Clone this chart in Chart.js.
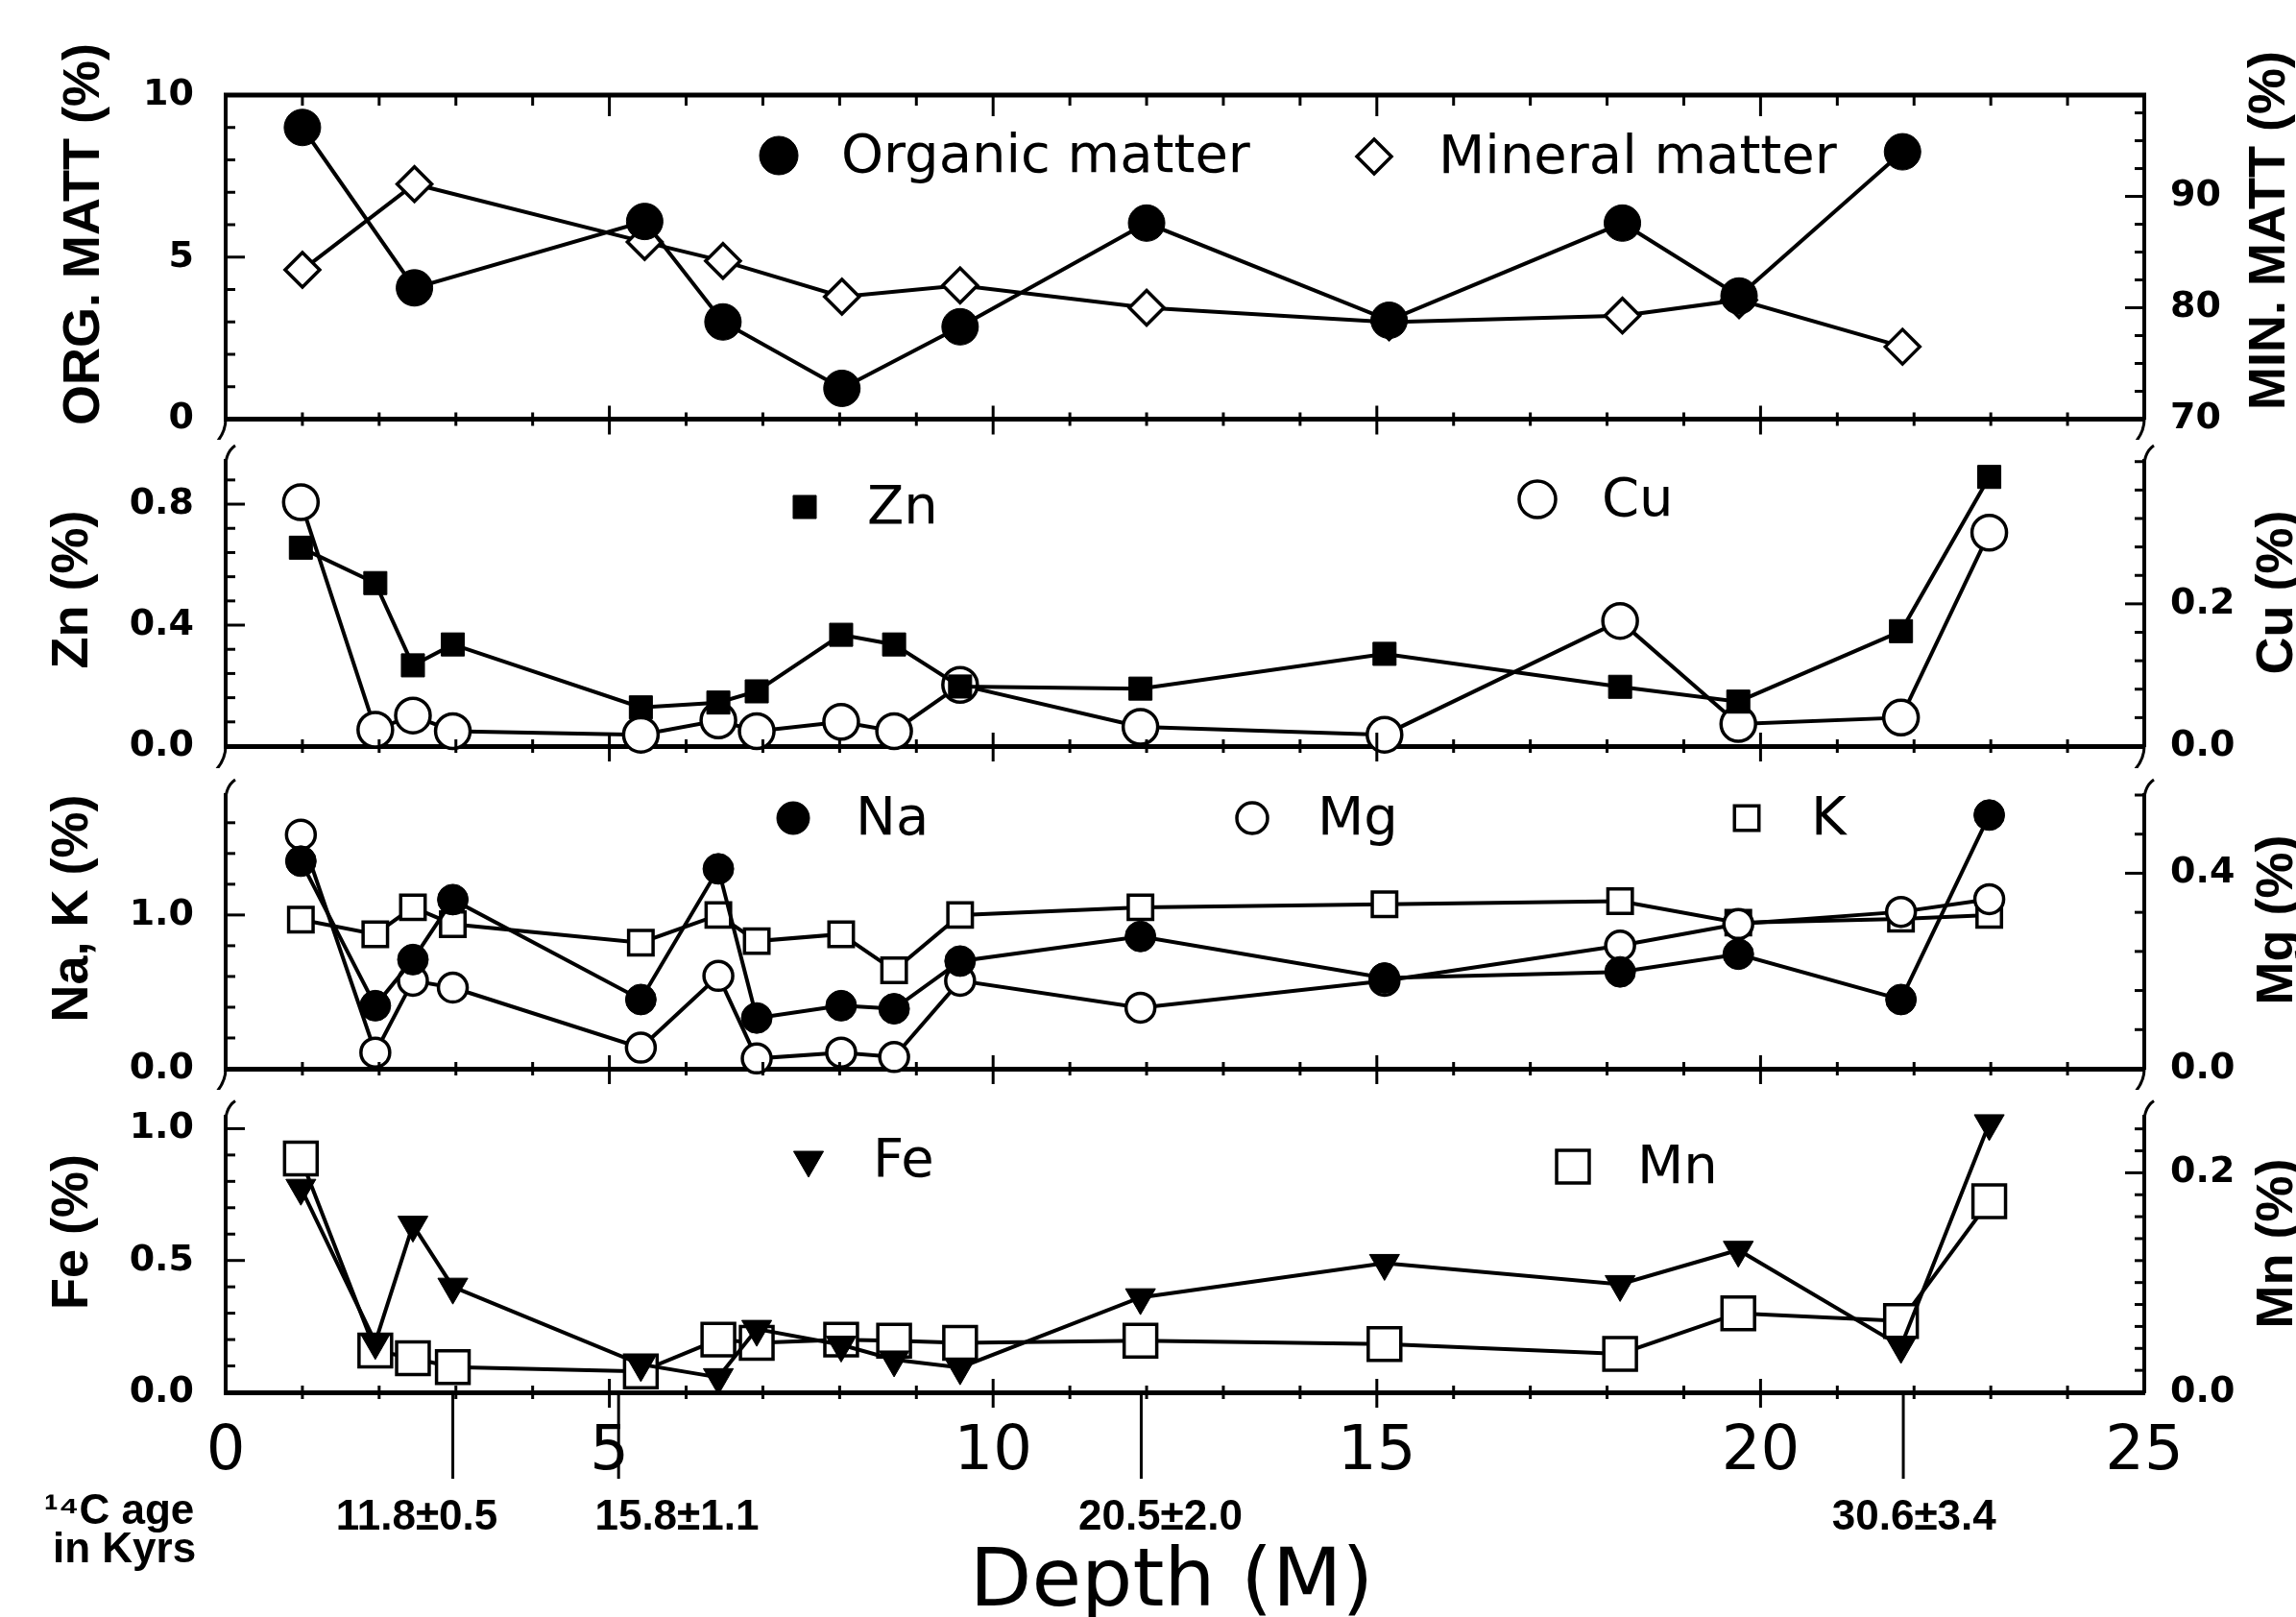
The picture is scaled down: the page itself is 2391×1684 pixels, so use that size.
<!DOCTYPE html>
<html>
<head>
<meta charset="utf-8">
<script src="https://cdn.jsdelivr.net/npm/chart.js@4.4.1/dist/chart.umd.min.js"></script>
<style>
  html, body { margin: 0; padding: 0; background: #fff; }
  #wrap { position: relative; width: 2391px; height: 1684px; background: #fff; overflow: hidden; }
  #wrap canvas { position: absolute; left: 0; }
</style>
</head>
<body>
<div id="wrap">
  <canvas id="p1"></canvas>
  <canvas id="p2"></canvas>
  <canvas id="p3"></canvas>
  <canvas id="p4"></canvas>
</div>
<script>
// depth of samples (m)
var depthMatter = [1.0, 2.46, 5.46, 6.48, 8.03, 9.57, 12.0, 15.16, 18.2, 19.72, 21.85];
var organicMatter = [9.0, 4.05, 6.1, 3.0, 0.95, 2.85, 6.05, 3.05, 6.05, 3.8, 8.25];
var mineralMatter = [83.4, 91.1, 85.9, 84.2, 81.0, 82.0, 80.0, 78.7, 79.3, 80.7, 76.5];

var depthElem = [0.98, 1.95, 2.44, 2.96, 5.41, 6.42, 6.92, 8.02, 8.71, 9.57, 11.92, 15.1, 18.17, 19.71, 21.83, 22.98];
var zn = [0.656, 0.539, 0.267, 0.336, 0.128, 0.144, 0.181, 0.368, 0.336, 0.197, 0.19, 0.305, 0.196, 0.147, 0.38, 0.89];
var cu = [0.343, 0.023, 0.043, 0.021, 0.016, 0.036, 0.021, 0.034, 0.021, 0.086, 0.027, 0.016, 0.176, 0.031, 0.04, 0.30];
var na = [1.35, 0.41, 0.71, 1.10, 0.45, 1.30, 0.33, 0.41, 0.39, 0.70, 0.86, 0.59, 0.63, 0.745, 0.45, 1.65];
var mg = [0.479, 0.033, 0.18, 0.166, 0.043, 0.19, 0.021, 0.033, 0.024, 0.18, 0.125, 0.18, 0.252, 0.296, 0.321, 0.347];
var kk = [0.97, 0.875, 1.05, 0.94, 0.82, 1.0, 0.83, 0.875, 0.64, 1.0, 1.05, 1.07, 1.09, 0.95, 0.975, 1.0];
var fe = [0.775, 0.19, 0.635, 0.40, 0.106, 0.057, 0.24, 0.18, 0.124, 0.094, 0.36, 0.49, 0.41, 0.54, 0.175, 1.02];
var mn = [0.213, 0.038, 0.031, 0.023, 0.019, 0.048, 0.045, 0.048, 0.047, 0.045, 0.047, 0.044, 0.035, 0.072, 0.065, 0.174];

var depthTicks = [0, 5, 10, 15, 20, 25];

// 14C ages
var ageDepths = [2.96, 5.12, 11.93, 21.86];
var ageLabels = ['11.8±0.5', '15.8±1.1', '20.5±2.0', '30.6±3.4'];
var ageLabelDepths = [2.49, 5.88, 12.18, 22.0];

var W = 2391, AXL = 235, AXR = 2233;

// marker styles
var solidDot = { pointStyle: 'circle', pointBackgroundColor: '#000', pointBorderWidth: 1 };
var openDot = { pointStyle: 'circle', pointBackgroundColor: '#fff', pointBorderWidth: 3.5 };
var openDiamond = { pointStyle: 'rectRot', pointBackgroundColor: '#fff', pointBorderWidth: 3.5 };
var solidSquare = { pointStyle: 'rect', pointBackgroundColor: '#000', pointBorderWidth: 1 };
var openSquare = { pointStyle: 'rect', pointBackgroundColor: '#fff', pointBorderWidth: 3.5 };
var solidTri = { pointStyle: 'triangle', pointRotation: 180, pointBackgroundColor: '#000', pointBorderWidth: 1 };

function series(label, xs, ys, axis, mark, r) {
  return Object.assign({
    label: label,
    data: xs.map(function (x, i) { return { x: x, y: ys[i] }; }),
    yAxisID: axis,
    borderColor: '#000',
    borderWidth: 4,
    pointBorderColor: '#000',
    pointRadius: r,
    showLine: true,
    tension: 0,
    clip: false
  }, mark);
}

function line(c, x1, y1, x2, y2) {
  c.beginPath(); c.moveTo(x1, y1); c.lineTo(x2, y2); c.stroke();
}

function yTicks(c, s, o, x, dir) {
  c.lineWidth = 3;
  for (var i = 0; ; i++) {
    var v = o.min + i * o.minor;
    if (v > o.max + 1e-9) break;
    var major = o.major.some(function (m) { return Math.abs(m - v) < 1e-6; });
    var y = s.getPixelForValue(v);
    line(c, x, y, x + dir * (major ? 20 : 10), y);
  }
}

function marker(c, ds, x, y, r) {
  c.save();
  c.fillStyle = ds.pointBackgroundColor;
  c.strokeStyle = '#000';
  c.lineWidth = ds.pointBorderWidth;
  Chart.helpers.drawPoint(c, {
    pointStyle: ds.pointStyle, rotation: ds.pointRotation || 0,
    radius: r, borderWidth: ds.pointBorderWidth
  }, x, y);
  c.restore();
}

function vtext(c, t, x, y) {
  c.save();
  c.translate(x, y);
  c.rotate(-Math.PI / 2);
  c.textAlign = 'center';
  c.textBaseline = 'middle';
  c.fillText(t, 0, 0);
  c.restore();
}

function decor(cfg) {
  return {
    id: 'decor_' + cfg.id,
    afterDraw: function (chart) {
      var c = chart.ctx, a = chart.chartArea, xs = chart.scales.x;
      var off = cfg.top;
      c.save();
      c.strokeStyle = '#000';
      c.fillStyle = '#000';
      c.lineWidth = 3;
      for (var d = 1; d < 25; d++) {
        var x = xs.getPixelForValue(d);
        var major = d % 5 === 0;
        line(c, x, a.bottom - (major ? 14 : 7), x, a.bottom + (major ? 16 : 7));
        if (cfg.topBorder) line(c, x, a.top, x, a.top + (major ? 22 : 11));
      }
      if (cfg.topBorder) { c.lineWidth = 5; line(c, a.left - 2, a.top, a.right + 2, a.top); }
      yTicks(c, chart.scales.yL, cfg.left, a.left, 1);
      yTicks(c, chart.scales.yR, cfg.right, a.right, -1);

      // axis breaks
      c.lineWidth = 3;
      [a.left, a.right].forEach(function (x) {
        if (cfg.breakTop) {
          c.beginPath(); c.moveTo(x, a.top + 14);
          c.quadraticCurveTo(x - 2, a.top - 8, x + 10, a.top - 16); c.stroke();
        }
        if (cfg.breakBottom) {
          c.beginPath(); c.moveTo(x, a.bottom);
          c.quadraticCurveTo(x, a.bottom + 14, x - 11, a.bottom + 26); c.stroke();
        }
      });

      // axis titles
      c.font = 'bold 54px "Liberation Sans", Arial, sans-serif';
      vtext(c, cfg.left.title, cfg.left.tx, cfg.left.ty - off);
      vtext(c, cfg.right.title, cfg.right.tx, cfg.right.ty - off);

      // in-plot legend
      c.font = '56px "DejaVu Sans", sans-serif';
      c.textAlign = 'left';
      c.textBaseline = 'middle';
      cfg.legend.forEach(function (L) {
        var ds = chart.data.datasets[L.ds];
        marker(c, ds, L.mx, L.my - off, L.r);
        c.fillStyle = '#000';
        c.fillText(ds.label, L.tx, L.my - off + 2);
      });

      if (cfg.ages) {
        c.lineWidth = 3;
        ageDepths.forEach(function (d) {
          var x = xs.getPixelForValue(d);
          line(c, x, a.bottom, x, a.bottom + 90);
        });
        c.font = 'bold 44px "Liberation Sans", Arial, sans-serif';
        c.textAlign = 'center';
        c.textBaseline = 'alphabetic';
        ageLabels.forEach(function (t, i) {
          c.fillText(t, xs.getPixelForValue(ageLabelDepths[i]), 1593 - off);
        });
        c.textAlign = 'left';
        c.fillText('\u00B9\u2074C age', 46, 1587 - off);
        c.fillText('in Kyrs', 55, 1627 - off);
        c.font = '84px "DejaVu Sans", sans-serif';
        c.textAlign = 'center';
        c.fillText('Depth (M)', 1220, 1672 - off);
      }
      c.restore();
    }
  };
}

function yScale(o, pos, pad) {
  return {
    type: 'linear',
    position: pos,
    min: o.min,
    max: o.max,
    grid: { display: false, drawTicks: false },
    border: { display: true, color: '#000', width: 4 },
    ticks: {
      color: '#000',
      padding: pad,
      font: { family: 'DejaVu Sans', size: 38, weight: 'bold' },
      callback: function (v) { return Number(v).toFixed(o.dec); }
    },
    afterBuildTicks: function (s) { s.ticks = o.major.map(function (v) { return { value: v }; }); },
    afterFit: function (s) {
      s.width = pos === 'left' ? AXL : W - AXR;
      s.paddingTop = 0; s.paddingBottom = 0;
    }
  };
}

function makePanel(cfg) {
  var cv = document.getElementById(cfg.id);
  cv.width = W;
  cv.height = cfg.h;
  cv.style.top = cfg.top + 'px';
  var xH = cfg.top + cfg.h - cfg.areaBottom;
  return new Chart(cv, {
    type: 'line',
    data: { datasets: cfg.datasets },
    options: {
      responsive: false,
      animation: false,
      devicePixelRatio: 1,
      layout: { padding: { top: cfg.areaTop - cfg.top, left: 0, right: 0, bottom: 0 } },
      plugins: { legend: { display: false }, tooltip: { enabled: false } },
      scales: {
        x: {
          type: 'linear', position: 'bottom', min: 0, max: 25,
          grid: { display: false, drawTicks: false },
          border: { display: true, color: '#000', width: 5 },
          ticks: {
            display: !!cfg.xLabels, color: '#000', padding: 25, maxRotation: 0, autoSkip: false,
            font: { family: 'DejaVu Sans', size: 64 }
          },
          afterBuildTicks: function (s) { s.ticks = depthTicks.map(function (v) { return { value: v }; }); },
          afterFit: function (s) { s.height = xH; s.paddingLeft = 0; s.paddingRight = 0; }
        },
        yL: yScale(cfg.left, 'left', 33),
        yR: yScale(cfg.right, 'right', 27)
      }
    },
    plugins: [decor(cfg)]
  });
}

makePanel({
  id: 'p1', top: 0, h: 458, areaTop: 99, areaBottom: 438,
  topBorder: true, breakTop: false, breakBottom: true,
  left: { min: 0, max: 10, major: [0, 5, 10], minor: 1, dec: 0, title: 'ORG. MATT (%)', tx: 88, ty: 244 },
  right: { min: 70, max: 99.1, major: [70, 80, 90], minor: 2.5, dec: 0, title: 'MIN. MATT (%)', tx: 2364, ty: 240 },
  datasets: [
    series('Organic matter', depthMatter, organicMatter, 'yL', solidDot, 19),
    series('Mineral matter', depthMatter, mineralMatter, 'yR', openDiamond, 18)
  ],
  legend: [
    { ds: 0, mx: 811, my: 162, tx: 876, r: 20 },
    { ds: 1, mx: 1431, my: 163, tx: 1498, r: 18 }
  ]
});

makePanel({
  id: 'p2', top: 458, h: 342, areaTop: 480, areaBottom: 777,
  breakTop: true, breakBottom: true,
  left: { min: 0, max: 0.943, major: [0, 0.4, 0.8], minor: 0.08, dec: 1, title: 'Zn (%)', tx: 76, ty: 614 },
  right: { min: 0, max: 0.401, major: [0, 0.2], minor: 0.04, dec: 1, title: 'Cu (%)', tx: 2372, ty: 617 },
  datasets: [
    series('Zn', depthElem, zn, 'yL', solidSquare, 17),
    series('Cu', depthElem, cu, 'yR', openDot, 18)
  ],
  legend: [
    { ds: 0, mx: 838, my: 528, tx: 903, r: 17 },
    { ds: 1, mx: 1601, my: 520, tx: 1668, r: 19 }
  ]
});

makePanel({
  id: 'p3', top: 800, h: 335, areaTop: 828, areaBottom: 1113,
  breakTop: true, breakBottom: true,
  left: { min: 0, max: 1.78, major: [0, 1.0], minor: 0.2, dec: 1, title: 'Na, K (%)', tx: 76, ty: 946 },
  right: { min: 0, max: 0.56, major: [0, 0.4], minor: 0.08, dec: 1, title: 'Mg (%)', tx: 2372, ty: 958 },
  datasets: [
    series('Na', depthElem, na, 'yL', solidDot, 16),
    series('Mg', depthElem, mg, 'yR', openDot, 15),
    series('K', depthElem, kk, 'yL', openSquare, 18)
  ],
  legend: [
    { ds: 0, mx: 826, my: 852, tx: 891, r: 17 },
    { ds: 1, mx: 1304, my: 852, tx: 1372, r: 16 },
    { ds: 2, mx: 1819, my: 852, tx: 1886, r: 18 }
  ]
});

makePanel({
  id: 'p4', top: 1135, h: 549, areaTop: 1162, areaBottom: 1450,
  breakTop: true, breakBottom: false, xLabels: true, ages: true,
  left: { min: 0, max: 1.047, major: [0, 0.5, 1.0], minor: 0.1, dec: 1, title: 'Fe (%)', tx: 76, ty: 1283 },
  right: { min: 0, max: 0.2515, major: [0, 0.2], minor: 0.02, dec: 1, title: 'Mn (%)', tx: 2372, ty: 1295 },
  datasets: [
    series('Fe', depthElem, fe, 'yL', solidTri, 18),
    series('Mn', depthElem, mn, 'yR', openSquare, 24)
  ],
  legend: [
    { ds: 0, mx: 842, my: 1208, tx: 909, r: 18 },
    { ds: 1, mx: 1638, my: 1215, tx: 1705, r: 24 }
  ]
});
</script>
</body>
</html>
